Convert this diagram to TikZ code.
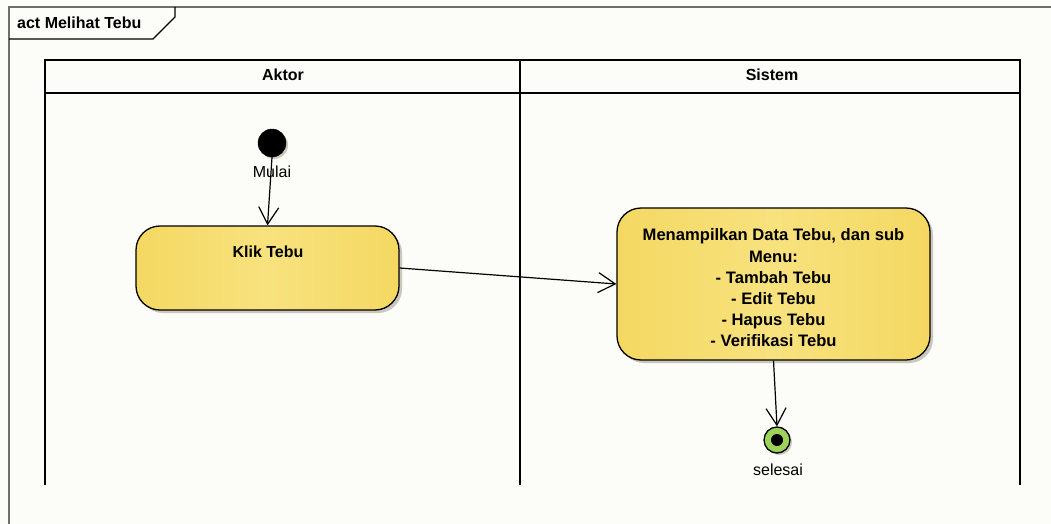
\documentclass[tikz,border=0pt]{standalone}
\usepackage{fontspec}
\setmainfont{Liberation Sans}
\usetikzlibrary{arrows.meta,shadows}
\definecolor{pagebg}{HTML}{FCFCF8}
\definecolor{framegray}{HTML}{6E6E6E}
\definecolor{actyellow}{HTML}{F4D862}
\definecolor{actlight}{HTML}{F8E27E}
\definecolor{endgreen}{HTML}{9ED25A}
\definecolor{shadowgray}{HTML}{CBC7BC}
\tikzset{
  actbox/.style={draw=black, line width=1.3pt, rounded corners=24pt,
    left color=actyellow, right color=actyellow, middle color=actlight,
    drop shadow={shadow xshift=3pt, shadow yshift=-3pt, fill=shadowgray, opacity=1},
    inner sep=0pt},
  acttext/.style={font=\fontsize{16.6}{21.2}\selectfont\bfseries, align=center, inner sep=0pt},
  flow/.style={draw=black, line width=1.2pt,
    -{Straight Barb[length=17pt,width=20pt,line width=1.2pt]}},
  lane/.style={draw=black, line width=2pt},
  lbl/.style={font=\fontsize{16}{19}\selectfont, inner sep=0pt},
  hdr/.style={font=\fontsize{16}{19}\selectfont\bfseries, inner sep=0pt}
}
\begin{document}
\begin{tikzpicture}[x=1pt, y=-1pt]
  \useasboundingbox (0,0) rectangle (1051,524);
  \fill[pagebg] (0,0) rectangle (1051,524);

  % diagram frame with its name tab
  \draw[framegray, line width=1.6pt] (1051,7) -- (9,7) -- (9,524);
  \draw[black, line width=1.2pt] (9,39) -- (153,39) -- (175,17) -- (175,7);
  \node[hdr, anchor=west] (title) at (17,23) {act Melihat Tebu};

  % swimlanes
  \draw[lane] (45,485) -- (45,60) -- (1020,60) -- (1020,485);
  \draw[lane] (45,93) -- (1020,93);
  \draw[lane] (520,60) -- (520,485);
  \node[hdr] (aktor) at (283,75) {Aktor};
  \node[hdr] (sistemhdr) at (772,75) {Sistem};

  % initial node
  \node[circle, fill=black, draw=black, minimum size=28pt, inner sep=0pt,
        drop shadow={shadow xshift=2pt, shadow yshift=-2pt, fill=shadowgray, opacity=1}]
        (start) at (272,143) {};
  \node[lbl] (mulai) at (272,172) {Mulai};

  % actions
  \node[actbox, minimum width=263pt, minimum height=84pt] (klik) at (267.5,268) {};
  \node[acttext, font=\fontsize{16}{19}\selectfont\bfseries] (kliktxt) at (268,252) {Klik Tebu};

  \node[actbox, minimum width=313pt, minimum height=152pt] (sistem) at (773.5,284) {};
  \node[acttext] (sistemtxt) at (773.5,288)
    {Menampilkan Data Tebu, dan sub\\Menu:\\- Tambah Tebu\\- Edit Tebu\\- Hapus Tebu\\- Verifikasi Tebu};

  % final node
  \node[circle, fill=endgreen, draw=black, line width=1.3pt, minimum size=26pt, inner sep=0pt,
        drop shadow={shadow xshift=2pt, shadow yshift=-2pt, fill=shadowgray, opacity=1}]
        (finish) at (777,440) {};
  \node[circle, fill=black, minimum size=12pt, inner sep=0pt] (finishdot) at (777,440) {};
  \node[lbl] (selesai) at (778,470) {selesai};

  % control flows
  \draw[flow] (start.south) -- (klik.north);
  \draw[flow] (klik.east) -- (sistem.west);
  \draw[flow] (sistem.south) -- (finish.north);
\end{tikzpicture}
\end{document}
